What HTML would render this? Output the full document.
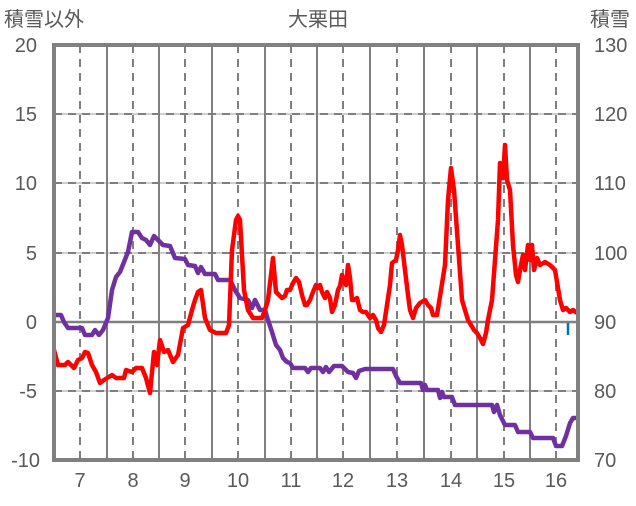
<!DOCTYPE html>
<html><head><meta charset="utf-8"><style>
html,body{margin:0;padding:0;background:#fff;}
svg text{font-family:"Liberation Sans","Noto Sans CJK JP",sans-serif;fill:#595959;}
</style></head><body>
<svg width="636" height="501" viewBox="0 0 636 501" xmlns="http://www.w3.org/2000/svg">
<rect width="636" height="501" fill="#fff"/>
<g stroke="#bfbfbf" stroke-width="1.5">
<line x1="54" y1="114" x2="578" y2="114"/><line x1="54" y1="183" x2="578" y2="183"/>
<line x1="54" y1="253" x2="578" y2="253"/><line x1="54" y1="391" x2="578" y2="391"/>
</g>
<g stroke="#7f7f7f" stroke-width="2" stroke-dasharray="8,6">
<line x1="54" y1="114" x2="578" y2="114"/><line x1="54" y1="183" x2="578" y2="183"/>
<line x1="54" y1="253" x2="578" y2="253"/><line x1="54" y1="391" x2="578" y2="391"/>
<line x1="80" y1="45" x2="80" y2="460"/><line x1="133" y1="45" x2="133" y2="460"/>
<line x1="185" y1="45" x2="185" y2="460"/><line x1="238" y1="45" x2="238" y2="460"/>
<line x1="291" y1="45" x2="291" y2="460"/><line x1="343" y1="45" x2="343" y2="460"/>
<line x1="397" y1="45" x2="397" y2="460"/><line x1="451" y1="45" x2="451" y2="460"/>
<line x1="504" y1="45" x2="504" y2="460"/><line x1="556" y1="45" x2="556" y2="460"/>
</g>
<g stroke="#7f7f7f" stroke-width="2">
<line x1="107" y1="45" x2="107" y2="460"/><line x1="159" y1="45" x2="159" y2="460"/>
<line x1="212" y1="45" x2="212" y2="460"/><line x1="265" y1="45" x2="265" y2="460"/>
<line x1="317" y1="45" x2="317" y2="460"/><line x1="370" y1="45" x2="370" y2="460"/>
<line x1="424" y1="45" x2="424" y2="460"/><line x1="477" y1="45" x2="477" y2="460"/>
<line x1="530" y1="45" x2="530" y2="460"/>
<line x1="54" y1="322" x2="578" y2="322" stroke-width="2.5"/>
</g>
<line x1="568" y1="323" x2="568" y2="335" stroke="#0070c0" stroke-width="2.5"/>
<polyline fill="none" stroke="#7030a0" stroke-width="4.5" stroke-linejoin="round" points="54,315 61,315 64,322 68,328 82,328 85,335 92,335 95,330 99,335 103,330 108,318 112,290 116,277 120,272 124,262 128,252 132,232 138,232 142,238 146,240 150,245 154,236 158,240 163,245 170,246 175,258 185,259 188,265 195,266 198,273 201,267 205,274 215,274 218,280 230,280 235,290 240,298 248,300 252,308 255,300 260,310 265,310 268,320 272,332 276,345 280,350 283,358 287,362 290,363 293,368 305,368 308,372 311,368 320,368 323,372 326,367 329,372 334,366 342,366 348,372 353,373 356,378 359,371 365,369 393,369 396,376 400,383 421,383 423,390 425,385 427,390 438,390 440,398 442,392 444,397 452,397 455,405 492,405 494,412 497,405 500,415 505,425 515,425 518,432 530,432 533,438 553,438 556,446 562,446 566,436 570,423 573,418 577,418"/>
<polyline fill="none" stroke="#ff0000" stroke-width="4.5" stroke-linejoin="round" points="54,350 58,365 65,365 68,362 71,365 74,368 78,360 82,358 85,352 88,353 92,365 96,372 100,383 104,380 112,375 116,378 124,378 126,370 132,372 136,368 142,368 146,378 150,393 154,352 157,365 160,340 164,352 168,350 173,362 178,355 183,328 188,325 192,310 195,300 198,292 201,290 205,318 210,330 216,333 226,333 229,325 232,250 236,220 238,216 240,220 244,290 248,310 253,318 258,318 262,318 265,310 268,300 273,258 276,292 282,298 285,296 287,290 290,290 293,283 296,278 299,282 302,295 305,305 307,305 310,300 313,292 316,285 318,288 320,285 322,292 325,298 327,292 330,298 332,312 335,305 338,290 340,286 342,275 344,282 346,285 348,265 350,278 352,300 354,300 357,298 360,310 363,312 366,312 370,318 373,315 376,320 378,328 381,332 384,325 387,305 390,285 392,263 396,260 398,250 400,235 402,245 405,270 408,295 410,310 413,318 416,308 420,303 425,300 428,305 431,308 433,315 437,315 441,290 445,265 448,200 451,168 454,190 458,245 462,300 468,320 474,330 477,333 480,338 483,344 486,333 488,320 492,300 495,260 498,220 500,163 502,172 503,178 505,145 507,180 510,190 513,245 516,275 518,282 520,270 523,255 525,270 528,245 530,260 532,245 534,270 537,258 540,265 545,262 550,265 555,270 560,300 563,310 566,308 570,312 573,310 577,313"/>
<rect x="54" y="45" width="524" height="415" fill="none" stroke="#808080" stroke-width="4"/>
<g font-size="20" text-anchor="end">
<text x="37" y="52">20</text><text x="37" y="121">15</text><text x="37" y="190">10</text>
<text x="37" y="260">5</text><text x="37" y="329">0</text><text x="37" y="398">-5</text><text x="40" y="467">-10</text>
</g>
<g font-size="20" text-anchor="start">
<text x="594" y="52">130</text><text x="594" y="121">120</text><text x="594" y="190">110</text>
<text x="594" y="260">100</text><text x="594" y="329">90</text><text x="594" y="398">80</text><text x="594" y="467">70</text>
</g>
<g font-size="20" text-anchor="middle">
<text x="80" y="487">7</text><text x="133" y="487">8</text><text x="185" y="487">9</text>
<text x="238" y="487">10</text><text x="291" y="487">11</text><text x="343" y="487">12</text>
<text x="397" y="487">13</text><text x="451" y="487">14</text><text x="504" y="487">15</text><text x="556" y="487">16</text>
</g>
<text x="4" y="26" font-size="20">積雪以外</text>
<text x="318" y="26" font-size="20" text-anchor="middle">大栗田</text>
<text x="590" y="26" font-size="20">積雪</text>
</svg>
</body></html>
